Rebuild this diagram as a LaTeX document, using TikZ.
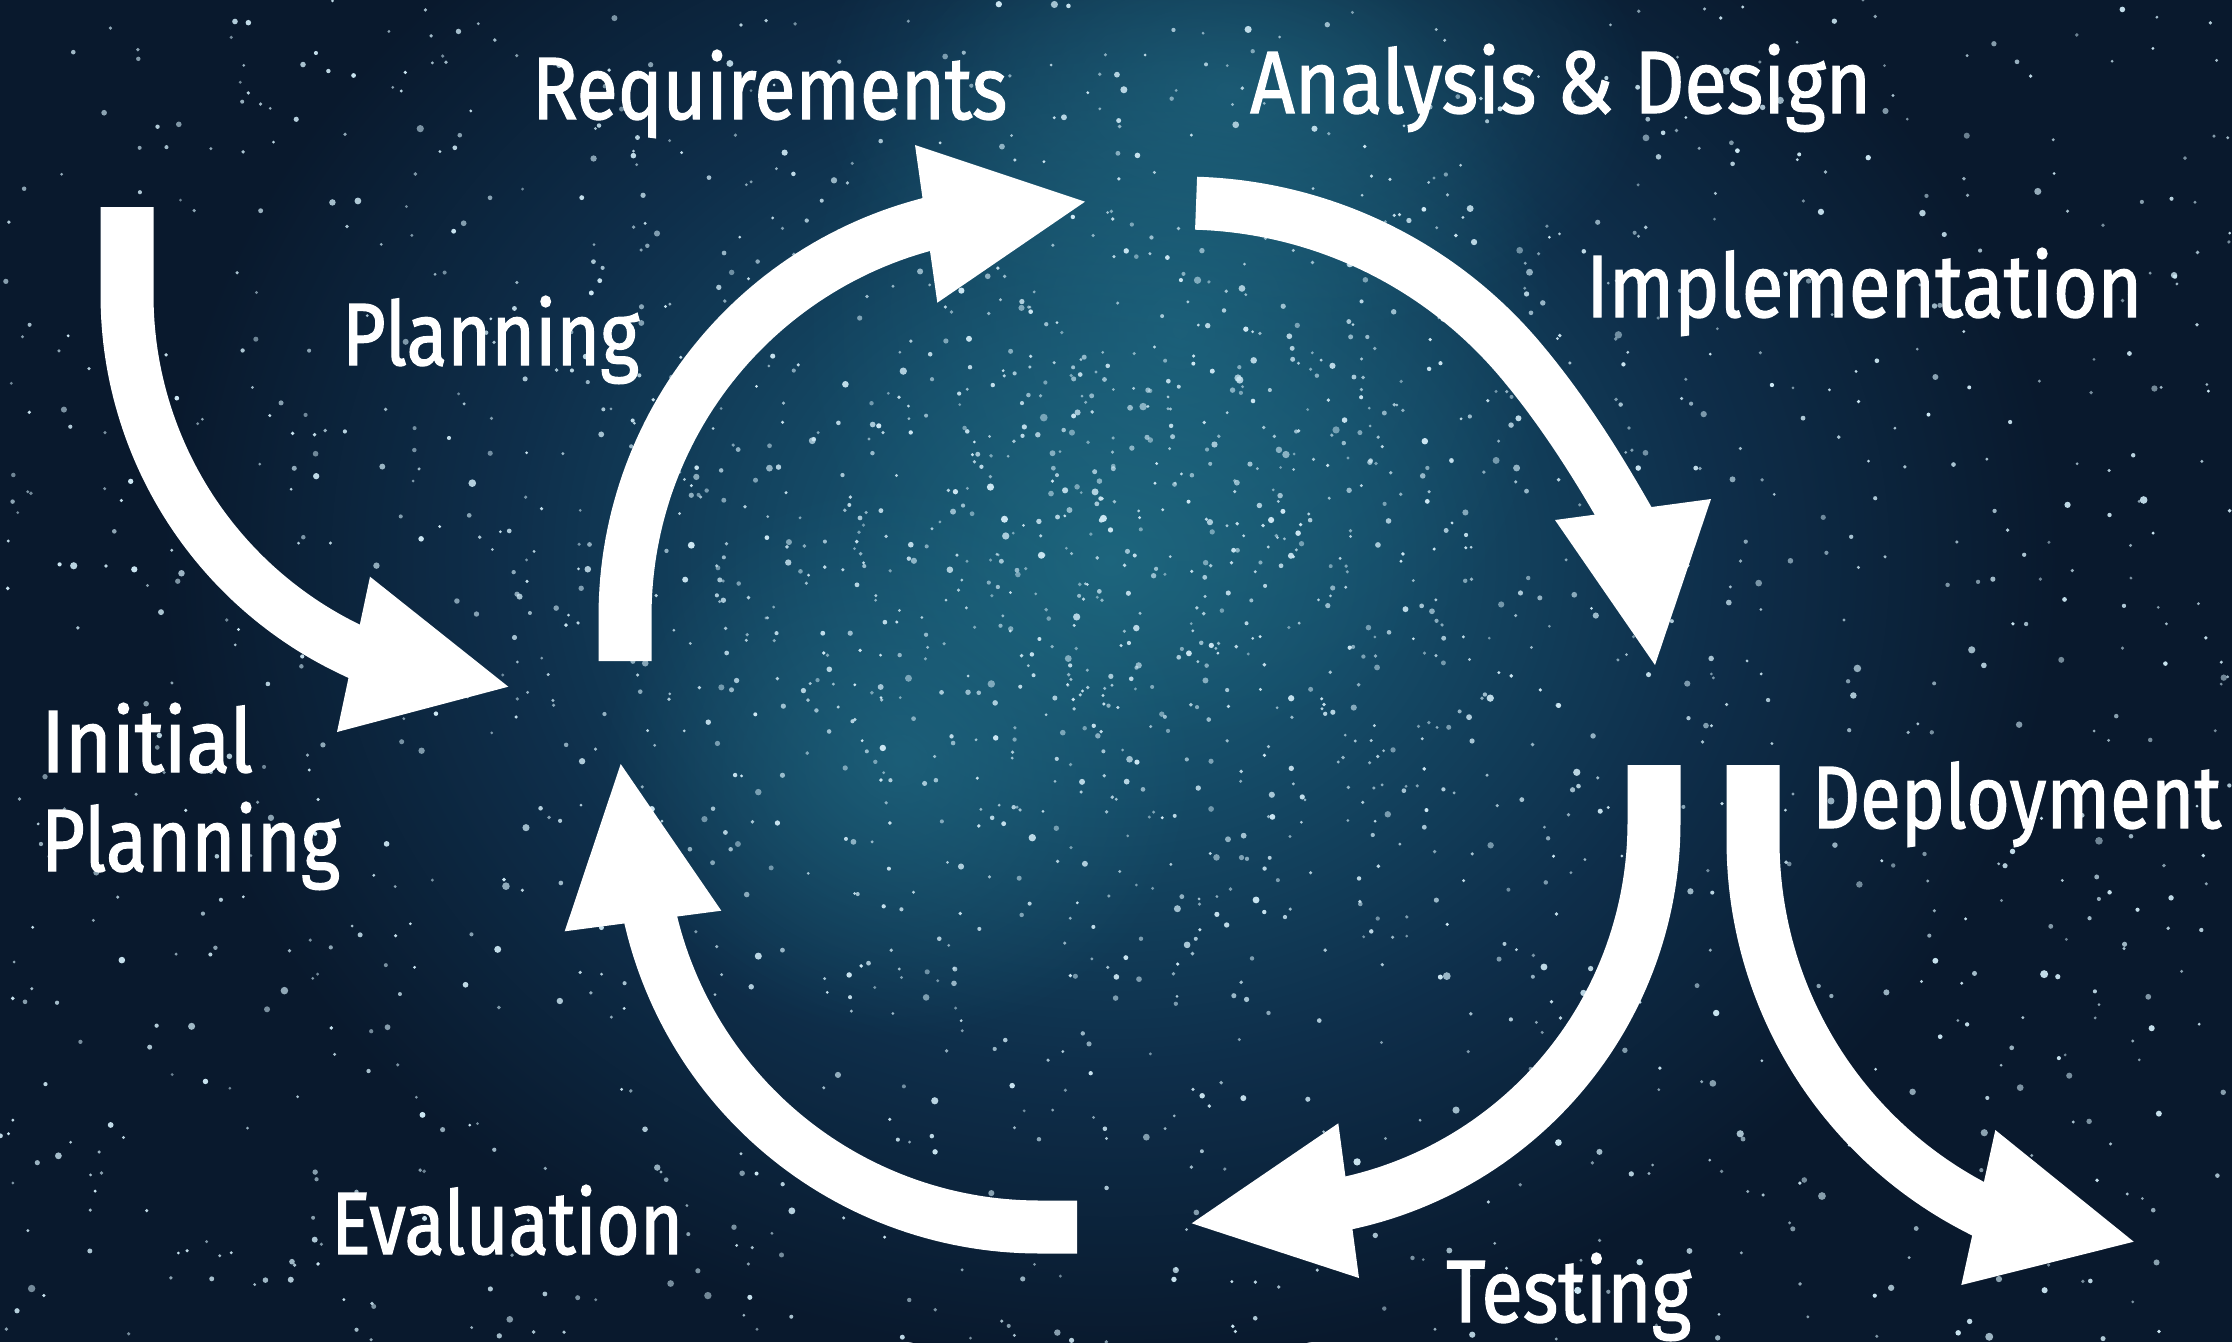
\documentclass[tikz,border=0pt]{standalone}
\usepackage{fontspec}
\usepackage{graphicx}
\usetikzlibrary{fadings}
\newfontfamily\lblfont{Fira Sans}[FakeBold=1.5]
\definecolor{bgdark}{RGB}{9,25,45}
\definecolor{nebA}{RGB}{28,98,122}
\definecolor{nebB}{RGB}{21,76,104}
\definecolor{nebC}{RGB}{14,46,74}
\definecolor{nebG}{RGB}{34,112,136}
\definecolor{starc}{RGB}{205,232,244}
\pgfdeclareradialshading{nebula}{\pgfpoint{0bp}{0bp}}{color(0bp)=(nebA); color(7bp)=(nebB); color(16bp)=(nebC); color(25bp)=(bgdark); color(50bp)=(bgdark)}
\tikzfading[name=softglow, inner color=transparent!45, outer color=transparent!100]
\tikzset{
  lbl/.style={text=white, inner sep=0pt, anchor=base west, font=\lblfont\fontsize{88.5}{100}\selectfont},
  shaft/.style={draw=white, line width=53pt, line cap=butt, line join=round},
  head/.style={fill=white},
  star/.style={fill=starc},
  glow/.style={fill=nebG, path fading=softglow}
}
\newcommand{\fitw}[2]{\resizebox{#1pt}{\height}{#2}}
\begin{document}
\begin{tikzpicture}[x=1pt,y=-1pt]
\fill[bgdark] (0,0) rectangle (2232,1342);
\useasboundingbox (0,0) rectangle (2232,1342);
\begin{scope}
\clip (0,0) rectangle (2232,1342);
\shade[shading=nebula] (1110,560) ellipse [x radius=950, y radius=800];
\fill[glow] (1180,330) ellipse [x radius=380, y radius=420];
\fill[glow] (1230,90) ellipse [x radius=420, y radius=260];
\fill[glow] (900,760) ellipse [x radius=300, y radius=280];
\pgfmathsetseed{4242}
\foreach \i in {1,...,1300}{
  \pgfmathsetmacro\sx{2232*rnd}
  \pgfmathsetmacro\sy{1342*rnd}
  \pgfmathsetmacro\sr{1.5+2.6*rnd*rnd}
  \pgfmathsetmacro\so{0.5+0.5*rnd}
  \fill[star, opacity=\so] (\sx,\sy) circle [radius=\sr];
}
\foreach \i in {1,...,900}{
  \pgfmathsetmacro\sx{1120+700*(rnd+rnd-1)}
  \pgfmathsetmacro\sy{540+520*(rnd+rnd-1)}
  \pgfmathsetmacro\sr{1.5+2.3*rnd*rnd}
  \pgfmathsetmacro\so{0.5+0.5*rnd}
  \fill[star, opacity=\so] (\sx,\sy) circle [radius=\sr];
}
\end{scope}

% arrow 1: Initial Planning
\coordinate (a1s) at (127,207);
\draw[shaft] (a1s) -- (127,295) -- plot[domain=0:64.6, samples=60, variable=\t] ({520+393*cos(180-\t)},{295+393*sin(180-\t)}) -- (369.5,658.6);
\fill[head] (370,576.7) -- (508.3,686.7) -- (337,732) -- cycle;

% arrow 2: Planning -> Requirements
\coordinate (a2s) at (625,661);
\draw[shaft] (a2s) -- (625,616) -- plot[domain=180:255.07, samples=60, variable=\t] ({1030+405*cos(\t)},{616+405*sin(\t)}) -- (944.9,219.5);
\fill[head] (915,145) -- (1085,201.7) -- (937.3,302.7) -- cycle;

% arrow 3: Analysis & Design -> Implementation
\coordinate (a3e) at (1622,509);
\draw[shaft] plot[domain=271.7:320, samples=50, variable=\t] ({1183+441*cos(\t)},{644+441*sin(\t)}) .. controls (1559.4,406.5) and (1592,457) .. (a3e) -- (1632,526.3);
\fill[head] (1555,520) -- (1711,499) -- (1655,665) -- cycle;

% arrow 4: Implementation -> Testing
\coordinate (a4s) at (1654,765);
\draw[shaft] (a4s) -- (1654,823) -- plot[domain=0:77.35, samples=60, variable=\t] ({1265+389*cos(\t)},{823+389*sin(\t)}) -- (1330.7,1207);
\fill[head] (1338.3,1123.3) -- (1191.7,1223.3) -- (1359,1278) -- cycle;

% arrow 5: Testing -> Evaluation
\coordinate (a5s) at (1077,1227);
\draw[shaft] (a5s) -- (1039,1227) -- plot[domain=90:166.6, samples=60, variable=\t] ({1039+399*cos(\t)},{828+399*sin(\t)}) -- (646.3,901);
\fill[head] (620.7,764) -- (564.7,931.3) -- (721.3,910.7) -- cycle;

% arrow 6: Deployment
\coordinate (a6s) at (1753,765);
\draw[shaft] (a6s) -- (1753,841) -- plot[domain=0:62.6, samples=60, variable=\t] ({2166+413*cos(180-\t)},{841+413*sin(180-\t)}) -- (1993.8,1216.9);
\fill[head] (1995.3,1130) -- (2133.7,1241.7) -- (1961.3,1285) -- cycle;

% labels
\node[lbl] (req) at (532,119) {\fitw{475}{Requirements}};
\node[lbl] (ana) at (1250,113) {\fitw{621}{Analysis \& Design}};
\node[lbl] (imp) at (1586,317) {\fitw{556}{Implementation}};
\node[lbl] (pla) at (342,365) {\fitw{297}{Planning}};
\node[lbl] (ini1) at (41,772) {\fitw{212}{Initial}};
\node[lbl] (ini2) at (41,871) {\fitw{299}{Planning}};
\node[lbl] (eva) at (331,1254) {\fitw{352}{Evaluation}};
\node[lbl] (tes) at (1446,1322) {\fitw{245}{Testing}};
\node[lbl] (dep) at (1812,828) {\fitw{409}{Deployment}};
\end{tikzpicture}
\end{document}
